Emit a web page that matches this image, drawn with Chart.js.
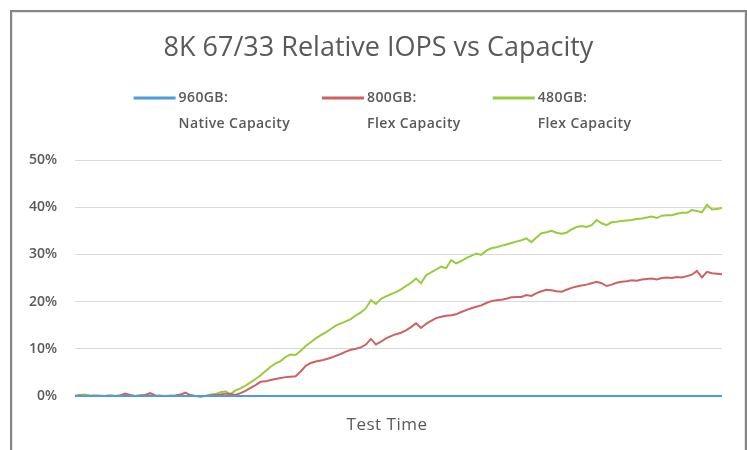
<!DOCTYPE html>
<html>
<head>
<meta charset="utf-8">
<script src="https://cdn.jsdelivr.net/npm/chart.js@4.4.1/dist/chart.umd.min.js"></script>
<style>
  html, body { margin: 0; padding: 0; background: #fff; }
  body { width: 747px; height: 450px; position: relative; overflow: hidden; }
  .frame {
    position: absolute; left: 10px; top: 10px; width: 737px; height: 445px;
    box-sizing: border-box; border: 2px solid #858585; border-bottom: none;
    box-shadow: inset 1px 1px 0 #e6e6e6, inset -1px 0 0 #e6e6e6;
    background: #fff;
  }
  .frame canvas { position: absolute; left: 0; top: 0; }
</style>
</head>
<body>
<div class="frame"><canvas id="chart" width="733" height="438"></canvas></div>
<script>
// ---- data (percent of baseline IOPS) ----
const seriesNames = [
  ['960GB:', 'Native Capacity'],
  ['800GB:', 'Flex Capacity'],
  ['480GB:', 'Flex Capacity']
];
const seriesColors = ['#4d9ddc', '#cd6262', '#9acb3c'];
const yTicks = [0, 10, 20, 30, 40, 50];

const native960 = [
  0, 0, 0, 0, 0, 0, 0, 0, 0, 0, 0, 0, 0, 0, 0, 0, 0, 0, 0, 0, 0, 0, 0, 0, 0, 0,
  0, 0, 0, 0, 0, 0, 0, 0, 0, 0, 0, 0, 0, 0, 0, 0, 0, 0, 0, 0, 0, 0, 0, 0, 0, 0,
  0, 0, 0, 0, 0, 0, 0, 0, 0, 0, 0, 0, 0, 0, 0, 0, 0, 0, 0, 0, 0, 0, 0, 0, 0, 0,
  0, 0, 0, 0, 0, 0, 0, 0, 0, 0, 0, 0, 0, 0, 0, 0, 0, 0, 0, 0, 0, 0, 0, 0, 0, 0,
  0, 0, 0, 0, 0, 0, 0, 0, 0, 0, 0, 0, 0, 0, 0, 0, 0, 0, 0, 0, 0, 0, 0, 0, 0, 0
];
const flex800 = [
  0.0, 0.1, 0.0, 0.0, 0.1, 0.0, 0.0, 0.1, 0.0, 0.1,
  0.5, 0.2, 0.0, 0.1, 0.2, 0.6, 0.1, 0.0, 0.0, 0.0,
  0.1, 0.3, 0.7, 0.2, 0.0, -0.1, 0.0, 0.1, 0.2, 0.3,
  0.5, 0.4, 0.2, 0.6, 1.1, 1.7, 2.3, 3.0, 3.1, 3.4,
  3.6, 3.8, 4.0, 4.1, 4.2, 5.2, 6.4, 7.0, 7.3, 7.5,
  7.8, 8.1, 8.5, 8.9, 9.4, 9.8, 10.0, 10.3, 10.9, 12.1,
  10.9, 11.5, 12.2, 12.7, 13.1, 13.4, 13.9, 14.6, 15.4, 14.4,
  15.3, 15.9, 16.5, 16.8, 17.0, 17.1, 17.3, 17.8, 18.2, 18.6,
  18.9, 19.2, 19.7, 20.1, 20.3, 20.4, 20.6, 20.9, 21.0, 21.0,
  21.4, 21.2, 21.8, 22.2, 22.5, 22.4, 22.2, 22.1, 22.5, 22.9,
  23.2, 23.4, 23.6, 23.9, 24.2, 23.9, 23.3, 23.6, 24.0, 24.2,
  24.3, 24.5, 24.4, 24.7, 24.8, 24.9, 24.7, 25.0, 25.1, 25.0,
  25.2, 25.1, 25.4, 25.7, 26.5, 25.1, 26.3, 26.0, 25.9, 25.8
];
const flex480 = [
  0.1, 0.2, 0.3, 0.1, 0.0, 0.1, 0.0, 0.1, 0.0, 0.1,
  0.2, 0.1, 0.0, 0.1, 0.2, 0.1, 0.0, 0.1, 0.0, 0.1,
  0.0, 0.1, 0.0, 0.1, 0.0, -0.1, 0.0, 0.3, 0.4, 0.8,
  1.0, 0.4, 1.2, 1.6, 2.2, 2.9, 3.6, 4.4, 5.3, 6.2,
  6.9, 7.4, 8.3, 8.8, 8.7, 9.6, 10.6, 11.4, 12.2, 12.9,
  13.5, 14.2, 14.9, 15.4, 15.8, 16.3, 17.1, 17.7, 18.6, 20.3,
  19.5, 20.6, 21.1, 21.6, 22.0, 22.6, 23.3, 24.0, 24.9, 23.9,
  25.6, 26.2, 26.8, 27.4, 27.1, 28.8, 28.1, 28.6, 29.2, 29.7,
  30.2, 29.9, 30.8, 31.3, 31.5, 31.8, 32.1, 32.4, 32.7, 33.0,
  33.4, 32.6, 33.6, 34.5, 34.7, 35.0, 34.6, 34.4, 34.6, 35.3,
  35.8, 36.0, 35.8, 36.2, 37.3, 36.6, 36.2, 36.8, 36.9, 37.1,
  37.2, 37.3, 37.5, 37.6, 37.8, 38.0, 37.7, 38.2, 38.3, 38.3,
  38.6, 38.8, 38.8, 39.4, 39.2, 38.9, 40.5, 39.5, 39.6, 39.9
];

const TEXT = '#595959';
const FONT = '"Open Sans", "Noto Sans", sans-serif';

// sample index only, the time axis has no tick labels
const samples = flex480.map((_, i) => i + 1);

// legend (two-line labels) + "Test Time" caption, Excel style
const excelExtras = {
  id: 'excelExtras',
  afterDraw(chart) {
    const ctx = chart.ctx;
    ctx.save();
    ctx.fillStyle = TEXT;
    ctx.textBaseline = 'middle';
    ctx.textAlign = 'left';
    ctx.font = '600 14px ' + FONT;
    ctx.letterSpacing = '0.4px';

    const lineLen = 42, gapText = 3, gapItem = 32;
    const items = chart.data.datasets.map(ds => {
      const w = Math.max(...ds.nameLines.map(t => ctx.measureText(t).width));
      return { ds, w: lineLen + gapText + w };
    });
    const total = items.reduce((s, it) => s + it.w, 0) + gapItem * (items.length - 1);
    let x = chart.width / 2 + 4 - total / 2;
    const y1 = 86, y2 = 112;
    items.forEach(it => {
      ctx.strokeStyle = it.ds.borderColor;
      ctx.lineWidth = 3;
      ctx.beginPath();
      ctx.moveTo(x, y1);
      ctx.lineTo(x + lineLen, y1);
      ctx.stroke();
      ctx.fillText(it.ds.nameLines[0], x + lineLen + gapText, y1);
      ctx.fillText(it.ds.nameLines[1], x + lineLen + gapText, y2);
      x += it.w + gapItem;
    });

    ctx.font = '17px ' + FONT;
    ctx.letterSpacing = '0.5px';
    ctx.textAlign = 'center';
    ctx.fillText('Test Time', 375, 413);
    ctx.restore();
  }
};

new Chart(document.getElementById('chart'), {
  type: 'line',
  data: {
    labels: samples,
    datasets: [native960, flex800, flex480].map((vals, i) => ({
      label: seriesNames[i].join(' '),
      nameLines: seriesNames[i],
      data: vals,
      borderColor: seriesColors[i],
      backgroundColor: seriesColors[i],
      borderWidth: 2,
      pointRadius: 0,
      tension: 0,
      fill: false,
      clip: false,
      order: i
    }))
  },
  options: {
    responsive: false,
    animation: false,
    devicePixelRatio: 1,
    layout: { padding: { left: 0, right: 0, top: 0, bottom: 54 } },
    plugins: {
      legend: { display: false },
      tooltip: { enabled: false },
      title: {
        display: true,
        text: '8K 67/33 Relative IOPS vs Capacity',
        color: TEXT,
        font: { family: FONT, size: 27, weight: 'normal' },
        padding: { top: 20, bottom: 95.6 }
      }
    },
    scales: {
      x: { display: false },
      y: {
        min: 0,
        max: 50,
        afterBuildTicks: scale => { scale.ticks = yTicks.map(v => ({ value: v })); },
        afterFit: scale => { scale.width = 63; },
        border: { display: false },
        grid: { color: '#d9d9d9', lineWidth: 1, drawTicks: false },
        ticks: {
          padding: 18,
          color: TEXT,
          font: { family: FONT, size: 14, weight: '600' },
          callback: v => v + '%'
        }
      },
      // empty right-hand margin so the title stays centred on the whole chart
      yMargin: {
        position: 'right',
        display: true,
        grid: { display: false },
        border: { display: false },
        ticks: { display: false },
        afterFit: scale => { scale.width = 23; }
      }
    }
  },
  plugins: [excelExtras]
});
</script>
</body>
</html>
